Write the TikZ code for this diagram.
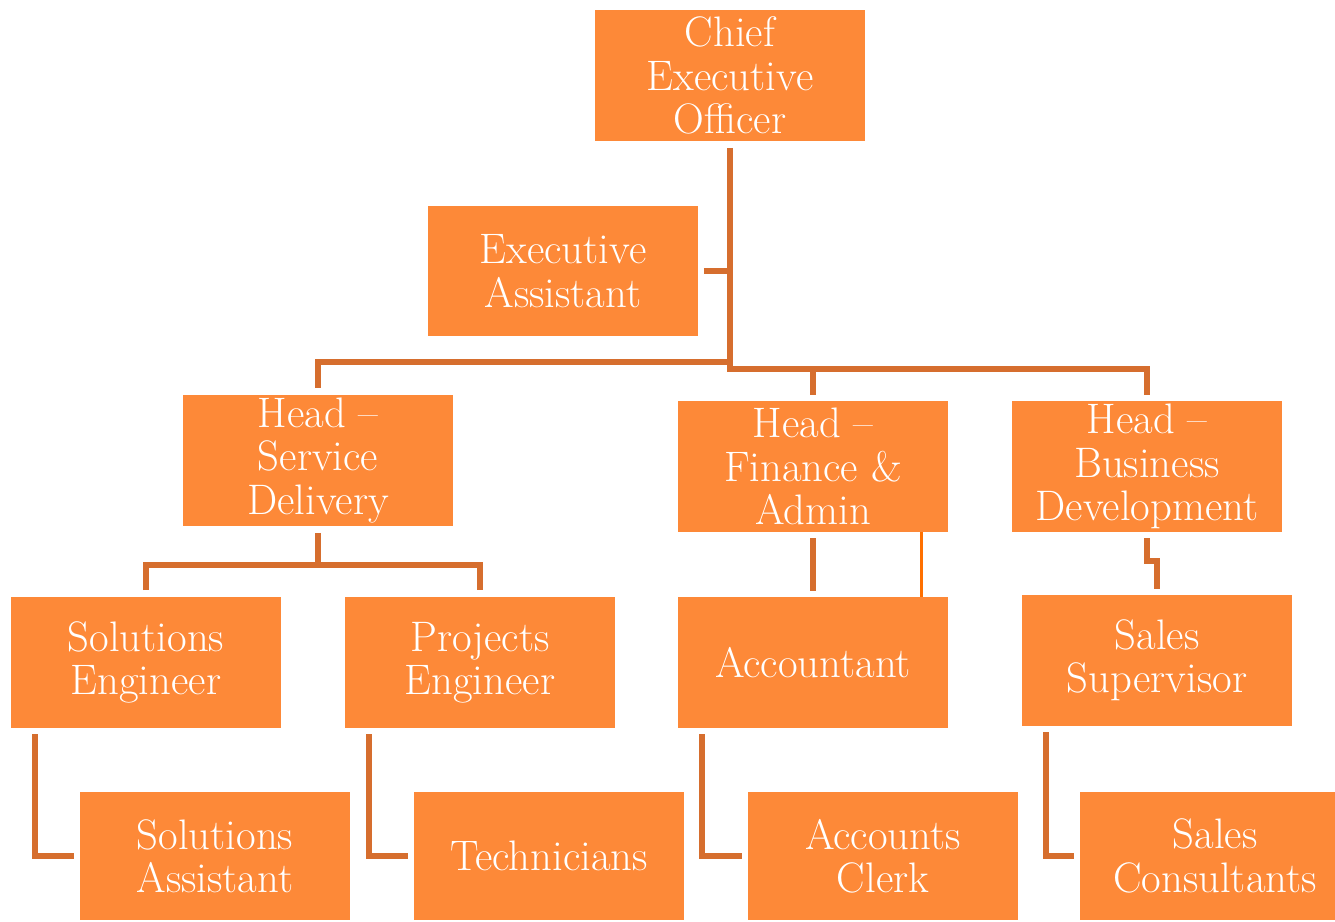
\documentclass[tikz,border=0pt]{standalone}
\usetikzlibrary{positioning}
\definecolor{boxorange}{RGB}{253,137,56}
\definecolor{linkorange}{RGB}{214,110,46}
\definecolor{glintorange}{RGB}{255,112,0}
\tikzset{font=\fontsize{32}{32.5}\selectfont}
\tikzstyle{post}=[rectangle,fill=boxorange,text=white,minimum width=202pt,minimum height=98pt,inner sep=2pt,align=center]
\tikzstyle{link}=[draw=linkorange,line width=4.5pt]
\tikzstyle{glint}=[draw=glintorange,line width=2pt]

\begin{document}
\begin{tikzpicture}[x=0.75pt,y=-0.75pt]
\useasboundingbox (0,0) rectangle (1335,921);
\clip (0,0) rectangle (1335,921);
\node[post] (ceo) at (730,75.5) {Chief\\Executive\\Officer};
\node[post] (ea) at (563,271) {Executive\\Assistant};
\node[post] (sd) at (318,460.5) {Head --\\Service\\Delivery};
\node[post] (fin) at (813,466.5) {Head --\\Finance \&\\Admin};
\node[post] (bd) at (1147,466.5) {Head --\\Business\\Development};
\node[post] (se) at (146,662.5) {Solutions\\Engineer};
\node[post] (pe) at (480,662.5) {Projects\\Engineer};
\node[post] (acc) at (813,662.5) {Accountant};
\node[post] (ss) at (1157,660.5) {Sales\\Supervisor};
\node[post,minimum height=96pt] (sa) at (215,856) {Solutions\\Assistant};
\node[post,minimum height=96pt] (tech) at (549,856) {Technicians};
\node[post,minimum height=96pt] (clerk) at (883,856) {Accounts\\Clerk};
\node[post,minimum height=96pt] (cons) at (1215,856) {Sales\\Consultants};
\coordinate (lbus) at (730,362);
\coordinate (rbus) at (730,369);
\coordinate (sdbus) at (318,565);
% top level
\draw[link] ([yshift=-5pt]ceo.south) -- (rbus) -| ([yshift=4.5pt]bd.north);
\draw[link] (lbus) -| ([yshift=5pt]sd.north);
\draw[link] (fin.north |- rbus) -- ([yshift=4.5pt]fin.north);
\draw[link] ([xshift=4.5pt]ea.east) -- (ea.east -| ceo.south);
% heads to staff
\draw[link] ([yshift=-5pt]sd.south) -- (sdbus);
\draw[link] ([yshift=5pt]se.north) |- (sdbus) -| ([yshift=5pt]pe.north);
\draw[link] ([yshift=-4.5pt]fin.south) -- ([yshift=4.5pt]acc.north);
\draw[glint] ([xshift=-20pt]fin.south east) -- ([xshift=-20pt]acc.north east);
\draw[link] ([yshift=-4.5pt]bd.south) -- ++(0,23) -| ([yshift=4.5pt]ss.north);
\foreach \up/\down in {se/sa,pe/tech,acc/clerk,ss/cons}
  \draw[link] ([xshift=18pt,yshift=-4.5pt]\up.south west) |- ([xshift=-4.5pt]\down.west);
\end{tikzpicture}
\end{document}
